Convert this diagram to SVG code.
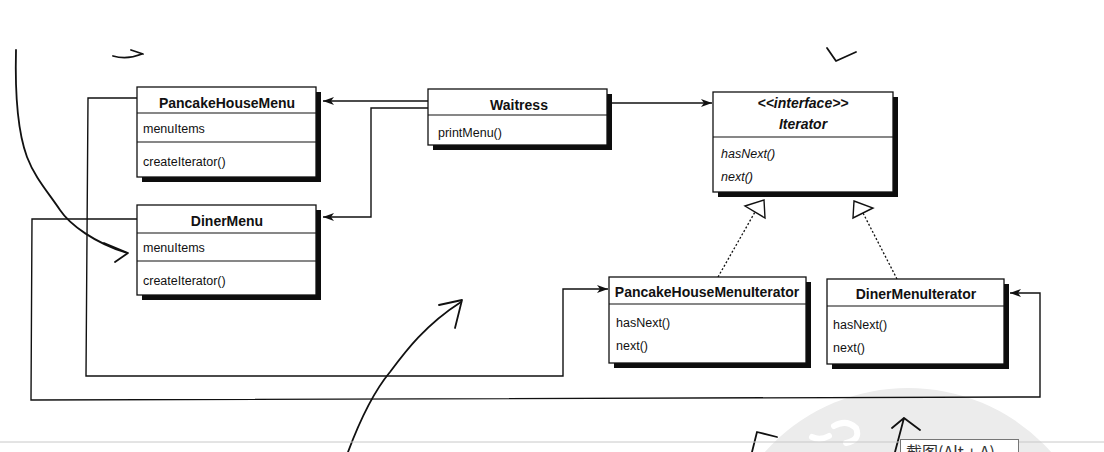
<svg xmlns="http://www.w3.org/2000/svg" width="1104" height="452" viewBox="0 0 1104 452">
<style>
.box{fill:#fff;stroke:#111;stroke-width:1.3}
.shadow{fill:#111;filter:url(#blur)}
.div{stroke:#111;stroke-width:1.2}
.t{font-family:"Liberation Sans",Arial,sans-serif;font-size:14px;font-weight:bold;fill:#111;text-anchor:middle}
.ti{font-family:"Liberation Sans",Arial,sans-serif;font-size:14px;font-weight:bold;font-style:italic;fill:#111;text-anchor:middle}
.m{font-family:"Liberation Sans",Arial,sans-serif;font-size:12.5px;fill:#111}
.mi{font-family:"Liberation Sans",Arial,sans-serif;font-size:12.5px;font-style:italic;fill:#111}
.line{fill:none;stroke:#111;stroke-width:1.4}
.dot{fill:none;stroke:#111;stroke-width:1.3;stroke-dasharray:2 2}
.tri{fill:#fff;stroke:#111;stroke-width:1.4}
.pen{fill:none;stroke:#111;stroke-width:1.8;stroke-linecap:round;stroke-linejoin:round}
</style>
<defs>
<filter id="blur" x="-5%" y="-5%" width="110%" height="110%"><feGaussianBlur stdDeviation="0.7"/></filter>
<marker id="arr" markerWidth="12" markerHeight="10" refX="11" refY="5" orient="auto" markerUnits="userSpaceOnUse">
<path d="M0,1 L11,5 L0,9 L3,5 Z" fill="#111"/>
</marker>
</defs>
<rect width="1104" height="452" fill="#fff"/>
<g id="watermark">
<circle cx="908" cy="580" r="192" fill="#ececec"/>
<path d="M812,437 Q820,441 829,436 M834,426 Q846,419 856,428 Q861,440 846,443" fill="none" stroke="#fff" stroke-width="6" stroke-linecap="round"/>
</g>
<g id="connectors">
<path class="line" d="M428,101 H323" marker-end="url(#arr)"/>
<path class="line" d="M428,108 H371 V217 H323" marker-end="url(#arr)"/>
<path class="line" d="M607,103 H712" marker-end="url(#arr)"/>
<path class="line" d="M137,98 H88 L86,376 H563 V289 H608" marker-end="url(#arr)"/>
<path class="line" d="M137,219 H32 L31,400 L1040,397 V293 H1010" marker-end="url(#arr)"/>
<path class="dot" d="M718,277 L755,212"/>
<polygon class="tri" points="745,206 764,200 765,218"/>
<path class="dot" d="M897,279 L863,213"/>
<polygon class="tri" points="854,201 873,208 853,218"/>
</g>
<g id="PancakeHouseMenu">
<rect class="shadow" x="142" y="92" width="179" height="90"/>
<rect class="box" x="137" y="87" width="179" height="90"/>
<line class="div" x1="137" y1="113" x2="316" y2="113"/>
<line class="div" x1="137" y1="142" x2="316" y2="142"/>
<text class="t" x="227" y="108">PancakeHouseMenu</text>
<text class="m" x="143" y="133">menuItems</text>
<text class="m" x="143" y="166">createIterator()</text>
</g>
<g id="DinerMenu">
<rect class="shadow" x="142" y="210" width="179" height="90"/>
<rect class="box" x="137" y="205" width="179" height="90"/>
<line class="div" x1="137" y1="233" x2="316" y2="233"/>
<line class="div" x1="137" y1="261" x2="316" y2="261"/>
<text class="t" x="227" y="226">DinerMenu</text>
<text class="m" x="143" y="252">menuItems</text>
<text class="m" x="143" y="285">createIterator()</text>
</g>
<g id="Waitress">
<rect class="shadow" x="433" y="94" width="179" height="56"/>
<rect class="box" x="428" y="89" width="179" height="56"/>
<line class="div" x1="428" y1="115" x2="607" y2="115"/>
<text class="t" x="519" y="110">Waitress</text>
<text class="m" x="438" y="137">printMenu()</text>
</g>
<g id="Iterator">
<rect class="shadow" x="718" y="97" width="180" height="100"/>
<rect class="box" x="713" y="92" width="180" height="100"/>
<line class="div" x1="713" y1="137" x2="893" y2="137"/>
<text class="ti" x="803" y="108">&lt;&lt;interface&gt;&gt;</text>
<text class="ti" x="803" y="129">Iterator</text>
<text class="mi" x="721" y="158">hasNext()</text>
<text class="mi" x="721" y="181">next()</text>
</g>
<g id="PancakeHouseMenuIterator">
<rect class="shadow" x="614" y="282" width="197" height="86"/>
<rect class="box" x="609" y="277" width="197" height="86"/>
<line class="div" x1="609" y1="304" x2="806" y2="304"/>
<text class="t" x="707" y="297">PancakeHouseMenuIterator</text>
<text class="m" x="616" y="327">hasNext()</text>
<text class="m" x="616" y="350">next()</text>
</g>
<g id="DinerMenuIterator">
<rect class="shadow" x="832" y="284" width="177" height="85"/>
<rect class="box" x="827" y="279" width="177" height="85"/>
<line class="div" x1="827" y1="306" x2="1004" y2="306"/>
<text class="t" x="916" y="299">DinerMenuIterator</text>
<text class="m" x="833" y="329">hasNext()</text>
<text class="m" x="833" y="352">next()</text>
</g>
<g id="pen-marks">
<path class="pen" d="M16,50 C15,90 17,130 27,157 C35,178 48,192 60,210 C70,225 95,243 127,253"/>
<path class="pen" d="M104,243 L128,253 L115,262"/>
<path class="pen" d="M113,56 Q127,60 142,54 M131,50 L143,54"/>
<path class="pen" d="M827,48 L836,61 L856,52"/>
<path class="pen" d="M348,452 C360,420 375,390 390,372 C405,352 425,325 461,302"/>
<path class="pen" d="M439,305 L462,300 L455,328"/>
<path class="pen" d="M752,452 L757,432 Q765,434 777,437"/>
<path class="pen" d="M895,452 L904,418 L920,430 M904,418 L892,428"/>
</g>
<line x1="0" y1="442" x2="1104" y2="442" stroke="#c8c8c8" stroke-width="1"/>
<g id="tooltip">
<rect x="900.5" y="439.5" width="118" height="20" fill="#fff" stroke="#767676" stroke-width="1"/>
<text x="906" y="458" font-family="'Noto Sans CJK SC','Noto Sans',sans-serif" font-size="16" fill="#333">截图(Alt + A)</text>
</g>
</svg>
